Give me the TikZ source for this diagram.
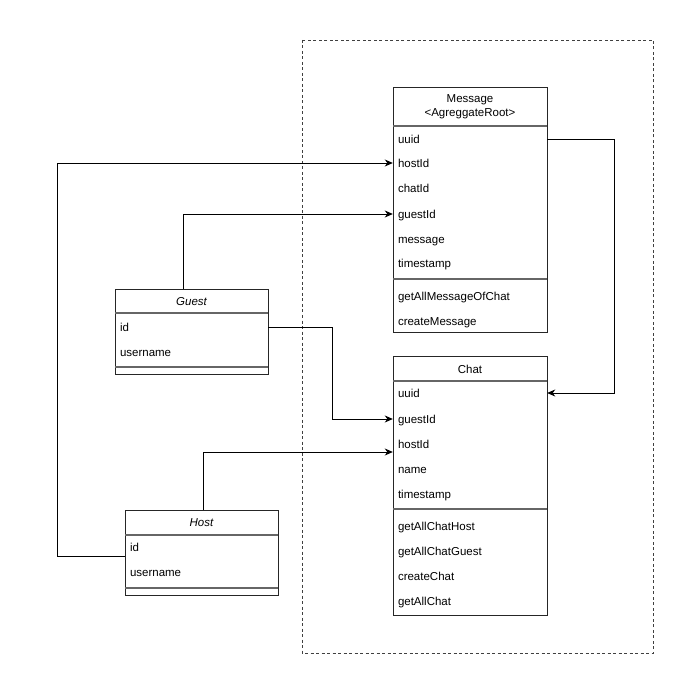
\documentclass[tikz,border=0pt]{standalone}
\usepackage{fontspec}
\setmainfont{Liberation Sans}
\usetikzlibrary{arrows.meta}
\begin{document}
\begin{tikzpicture}[x=1pt,y=-1pt,
  frame/.style={draw=black!85, line width=0.9pt, rectangle, inner sep=0pt},
  row/.style={inner xsep=5pt, inner ysep=0pt, text width=#1, align=left, text height=10pt, text depth=1.5pt, font=\fontsize{11.5}{13}\selectfont},
  row/.default=144pt,
  head/.style={inner sep=0pt, align=center, font=\fontsize{11.5}{14}\selectfont},
  sepline/.style={draw=black!60, line width=1.1pt},
  conn/.style={draw=black, line width=0.9pt, -{Stealth[length=8pt,width=7pt,inset=2.5pt]}},
  region/.style={draw=black!75, line width=0.8pt, dash pattern=on 3pt off 2.5pt}
]
\useasboundingbox (0,0) rectangle (698,692);
\fill[white] (0,0) rectangle (698,692);

% dashed region
\draw[region] (302,40) rectangle (653,653);

% Message
\node[frame, minimum width=154pt, minimum height=245pt] (msg) at (470,209.5) {};
\node[head] (msg-h) at (470,107) {Message\\<AgreggateRoot>};
\draw[sepline] (393,126) -- (547,126);
\draw[sepline] (393,279) -- (547,279);
\node[row] (m-uuid) at (470,139) {uuid};
\node[row] (m-hostId) at (470,163) {hostId};
\node[row] (m-chatId) at (470,188) {chatId};
\node[row] (m-guestId) at (470,214) {guestId};
\node[row] (m-message) at (470,239) {message};
\node[row] (m-timestamp) at (470,263) {timestamp};
\node[row] (m-get) at (470,296) {getAllMessageOfChat};
\node[row] (m-create) at (470,321) {createMessage};

% Chat
\node[frame, minimum width=154pt, minimum height=259pt] (chat) at (470,485.5) {};
\node[head] (chat-h) at (470,369) {Chat};
\draw[sepline] (393,381) -- (547,381);
\draw[sepline] (393,509) -- (547,509);
\node[row] (c-uuid) at (470,393) {uuid};
\node[row] (c-guestId) at (470,419) {guestId};
\node[row] (c-hostId) at (470,444) {hostId};
\node[row] (c-name) at (470,469) {name};
\node[row] (c-timestamp) at (470,494) {timestamp};
\node[row] (c-m1) at (470,526) {getAllChatHost};
\node[row] (c-m2) at (470,551) {getAllChatGuest};
\node[row] (c-m3) at (470,576) {createChat};
\node[row] (c-m4) at (470,601) {getAllChat};

% Guest
\node[frame, minimum width=153pt, minimum height=85pt] (guest) at (191.5,331.5) {};
\node[head, font=\fontsize{11.5}{14}\selectfont\itshape] (guest-h) at (191.5,301.5) {Guest};
\draw[sepline] (115,313) -- (268,313);
\draw[sepline] (115,367) -- (268,367);
\node[row=143pt] (g-id) at (191.5,327) {id};
\node[row=143pt] (g-username) at (191.5,352) {username};

% Host
\node[frame, minimum width=153pt, minimum height=85pt] (host) at (201.5,552.5) {};
\node[head, font=\fontsize{11.5}{14}\selectfont\itshape] (host-h) at (201.5,522.5) {Host};
\draw[sepline] (125,535) -- (278,535);
\draw[sepline] (125,588) -- (278,588);
\node[row=143pt] (h-id) at (201.5,547) {id};
\node[row=143pt] (h-username) at (201.5,572) {username};

% connectors
\draw[conn] ([yshift=-3.5pt]host.west) -- ++(-67,0) |- (m-hostId.west);
\draw[conn] ([xshift=-8.5pt]guest.north) |- (m-guestId.west);
\draw[conn] (g-id.east) -- ++(64,0) |- (c-guestId.west);
\draw[conn] ([xshift=1.5pt]host.north) |- ([yshift=-8pt]c-hostId.west);
\draw[conn] (m-uuid.east) -- ++(67,0) |- (c-uuid.east);
\end{tikzpicture}
\end{document}
